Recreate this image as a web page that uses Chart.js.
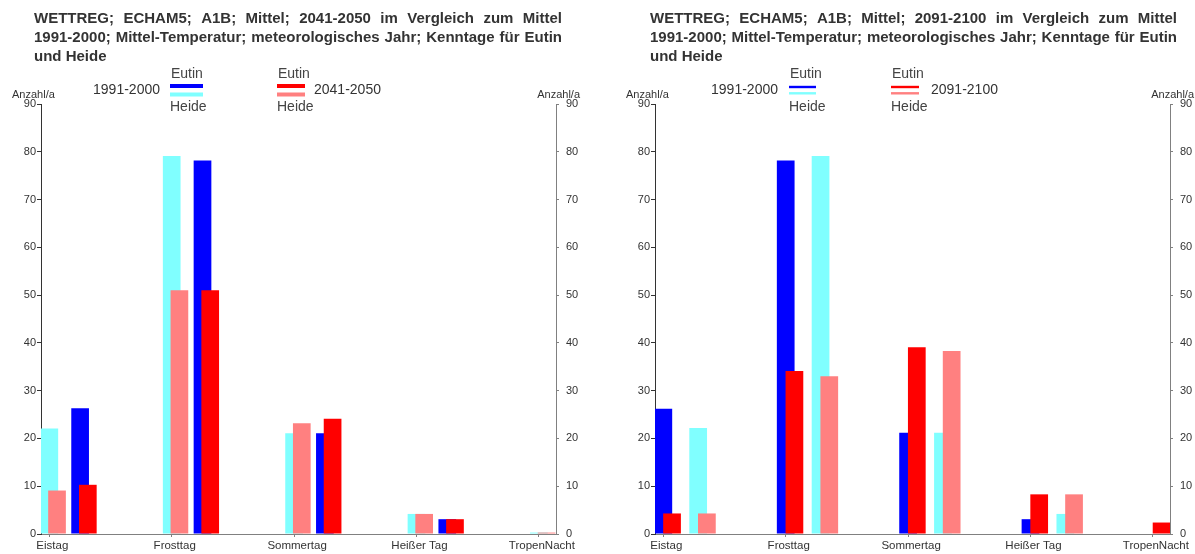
<!DOCTYPE html>
<html><head><meta charset="utf-8">
<script src="https://cdn.jsdelivr.net/npm/chart.js@4"></script>
<style>
html,body{margin:0;padding:0;background:#fff;overflow:hidden}
#wrap{position:relative;width:1195px;height:554px}
canvas{position:absolute;top:0}
#c1{left:0}
#c2{left:614px}
</style></head><body>
<div id="wrap"><canvas id="c1" width="614" height="554"></canvas><canvas id="c2" width="581" height="554"></canvas></div>
<script>
// ---------- DATA ----------
const categories = ['Eistag', 'Frosttag', 'Sommertag', 'Heißer Tag', 'TropenNacht'];
const yTickValues = [0, 10, 20, 30, 40, 50, 60, 70, 80, 90];
const yUnitLabel = 'Anzahl/a';
const stationA = 'Eutin';
const stationB = 'Heide';
const basePeriod = '1991-2000';
const periodMid = '2041-2050';
const periodEnd = '2091-2100';

const titleMid = ['WETTREG; ECHAM5; A1B; Mittel; 2041-2050 im Vergleich zum Mittel',
                  '1991-2000; Mittel-Temperatur; meteorologisches Jahr; Kenntage für Eutin',
                  'und Heide'];
const titleEnd = ['WETTREG; ECHAM5; A1B; Mittel; 2091-2100 im Vergleich zum Mittel',
                  '1991-2000; Mittel-Temperatur; meteorologisches Jahr; Kenntage für Eutin',
                  'und Heide'];

// Chart 1 (2041-2050)
const heideBase1 = [22.1, 79.1, 21.1, 4.2, 0.3];
const heideMid   = [9.1, 51.0, 23.2, 4.2, 0.3];
const eutinBase1 = [26.3, 78.2, 21.1, 3.1, 0.2];
const eutinMid   = [10.3, 51.0, 24.1, 3.1, 0.3];

// Chart 2 (2091-2100)
const eutinBase2 = [26.2, 78.2, 21.2, 3.1, 0];
const eutinEnd   = [4.3, 34.1, 39.1, 8.3, 2.4];
const heideBase2 = [22.2, 79.1, 21.2, 4.2, 0];
const heideEnd   = [4.3, 33.0, 38.3, 8.3, 1.3];

// ---------- STYLE ----------
const FONT = '"Liberation Sans", Arial, Helvetica, sans-serif';
const C_BLUE = '#0000FF', C_RED = '#FF0000', C_CYAN = '#80FFFF', C_PINK = '#FF8080';

function drawJustified(ctx, text, x0, x1, y, justify) {
  const words = text.split(' ');
  ctx.textAlign = 'left';
  if (!justify || words.length < 2) { ctx.fillText(text, x0, y); return; }
  const widths = words.map(w => ctx.measureText(w).width);
  const total = widths.reduce((a, b) => a + b, 0);
  const gap = (x1 - x0 - total) / (words.length - 1);
  let x = x0;
  words.forEach((w, i) => { ctx.fillText(w, x, y); x += widths[i] + gap; });
}

const forwardDraw = {
  id: 'forwardDraw',
  beforeDatasetsDraw(chart) {
    const ctx = chart.ctx, a = chart.chartArea;
    ctx.save();
    ctx.beginPath();
    ctx.rect(a.left, a.top, a.right - a.left, a.bottom - a.top);
    ctx.clip();
    chart.getSortedVisibleDatasetMetas().forEach(m => m.controller.draw());
    ctx.restore();
    return false;
  }
};

function decor(cfg) {
  return {
    id: 'decor',
    afterDraw(chart) {
      const ctx = chart.ctx;
      ctx.save();
      // title
      ctx.fillStyle = '#333';
      ctx.font = 'bold 15px ' + FONT;
      ctx.textBaseline = 'middle';
      cfg.title.forEach((line, i) => {
        drawJustified(ctx, line, cfg.titleX0, cfg.titleX1, 19 + i * 19, i < cfg.title.length - 1);
      });
      // unit labels
      ctx.font = '11px ' + FONT;
      ctx.fillStyle = '#333';
      ctx.textAlign = 'left';
      ctx.fillText(yUnitLabel, 12, 95);
      ctx.textAlign = 'right';
      ctx.fillText(yUnitLabel, 580, 95);
      // legend
      const L = cfg.legend;
      ctx.font = '14px ' + FONT;
      ctx.fillStyle = '#333';
      ctx.textAlign = 'right';
      ctx.fillText(basePeriod, L.baseX, 90);
      ctx.textAlign = 'left';
      ctx.fillText(cfg.period, L.perX, 90);
      ctx.fillStyle = '#444';
      ctx.fillText(stationA, L.g1x + 1, 74);
      ctx.fillText(stationB, L.g1x, 107);
      ctx.fillText(stationA, L.g2x + 1, 74);
      ctx.fillText(stationB, L.g2x, 107);
      const line = (x0, x1, y, w, c) => {
        ctx.fillStyle = c;
        ctx.fillRect(x0, y - w / 2, x1 - x0, w);
      };
      line(L.g1x, L.g1x + L.len1, L.y1, L.lw, C_BLUE);
      line(L.g1x, L.g1x + L.len1, L.y2, L.lw, C_CYAN);
      line(L.g2x, L.g2x + L.len2, L.y1, L.lw, C_RED);
      line(L.g2x, L.g2x + L.len2, L.y2, L.lw, C_PINK);
      ctx.restore();
    }
  };
}

function makeChart(canvasId, cfg) {
  const canvas = document.getElementById(canvasId);
  const datasets = cfg.slots.map(s => ({
    label: s ? s.label : '',
    data: categories.map((_, i) => ({ x: i, y: s ? s.values[i] : null })),
    backgroundColor: s ? s.color : 'rgba(0,0,0,0)',
    borderWidth: 0,
    categoryPercentage: cfg.catPct,
    barPercentage: cfg.barPct
  }));
  const yTicks = s => { s.ticks = yTickValues.map(v => ({ value: v })); };
  return new Chart(canvas, {
    type: 'bar',
    data: { datasets },
    options: {
      responsive: false,
      animation: false,
      devicePixelRatio: 1,
      layout: { padding: { top: 104, left: 0, right: 0, bottom: 0 } },
      plugins: { legend: { display: false }, tooltip: { enabled: false }, title: { display: false } },
      scales: {
        x: {
          type: 'linear', min: -0.068, max: 4.14, offset: false,
          afterBuildTicks: s => { s.ticks = categories.map((_, i) => ({ value: i })); },
          afterFit: s => { s.height = 20; },
          ticks: {
            callback: v => categories[v], autoSkip: false, maxRotation: 0,
            font: { family: FONT, size: 11.5 }, color: '#333', padding: 2, labelOffset: 3
          },
          grid: { offset: false, drawOnChartArea: false, tickLength: 3, color: '#808080' },
          border: { color: '#808080' }
        },
        y: {
          position: 'left', min: 0, max: 90,
          afterBuildTicks: yTicks,
          afterFit: s => { s.width = 41; },
          ticks: { font: { family: FONT, size: 11 }, color: '#333', padding: 1 },
          grid: { drawOnChartArea: false, tickLength: 4, color: '#333' },
          border: { color: '#333' }
        },
        y2: {
          position: 'right', min: 0, max: 90,
          afterBuildTicks: yTicks,
          afterFit: s => { s.width = cfg.width - 556; },
          ticks: { font: { family: FONT, size: 11 }, color: '#333', padding: 7 },
          grid: { drawOnChartArea: false, tickLength: 3, color: '#808080' },
          border: { color: '#808080' }
        }
      }
    },
    plugins: [forwardDraw, decor(cfg)]
  });
}

makeChart('c1', {
  width: 614,
  title: titleMid, titleX0: 34, titleX1: 562,
  period: periodMid,
  legend: { baseX: 160, perX: 314, g1x: 170, g2x: 277, len1: 33, len2: 28, y1: 86, y2: 94.5, lw: 4 },
  catPct: 11 * 7.7 / 122.4, barPct: 17.7 / 7.7,
  slots: [null, null, null, null, null,
    { label: stationB + ' ' + basePeriod, values: heideBase1, color: C_CYAN },
    { label: stationB + ' ' + periodMid, values: heideMid, color: C_PINK },
    null, null,
    { label: stationA + ' ' + basePeriod, values: eutinBase1, color: C_BLUE },
    { label: stationA + ' ' + periodMid, values: eutinMid, color: C_RED }]
});

makeChart('c2', {
  width: 581,
  title: titleEnd, titleX0: 36, titleX1: 563,
  period: periodEnd,
  legend: { baseX: 164, perX: 317, g1x: 175, g2x: 277, len1: 27, len2: 28, y1: 87, y2: 93.3, lw: 2.4 },
  catPct: 11 * 8.7 / 122.2, barPct: 17.7 / 8.7,
  slots: [null, null, null, null, null,
    { label: stationA + ' ' + basePeriod, values: eutinBase2, color: C_BLUE },
    { label: stationA + ' ' + periodEnd, values: eutinEnd, color: C_RED },
    null, null,
    { label: stationB + ' ' + basePeriod, values: heideBase2, color: C_CYAN },
    { label: stationB + ' ' + periodEnd, values: heideEnd, color: C_PINK }]
});
</script>
</body></html>
